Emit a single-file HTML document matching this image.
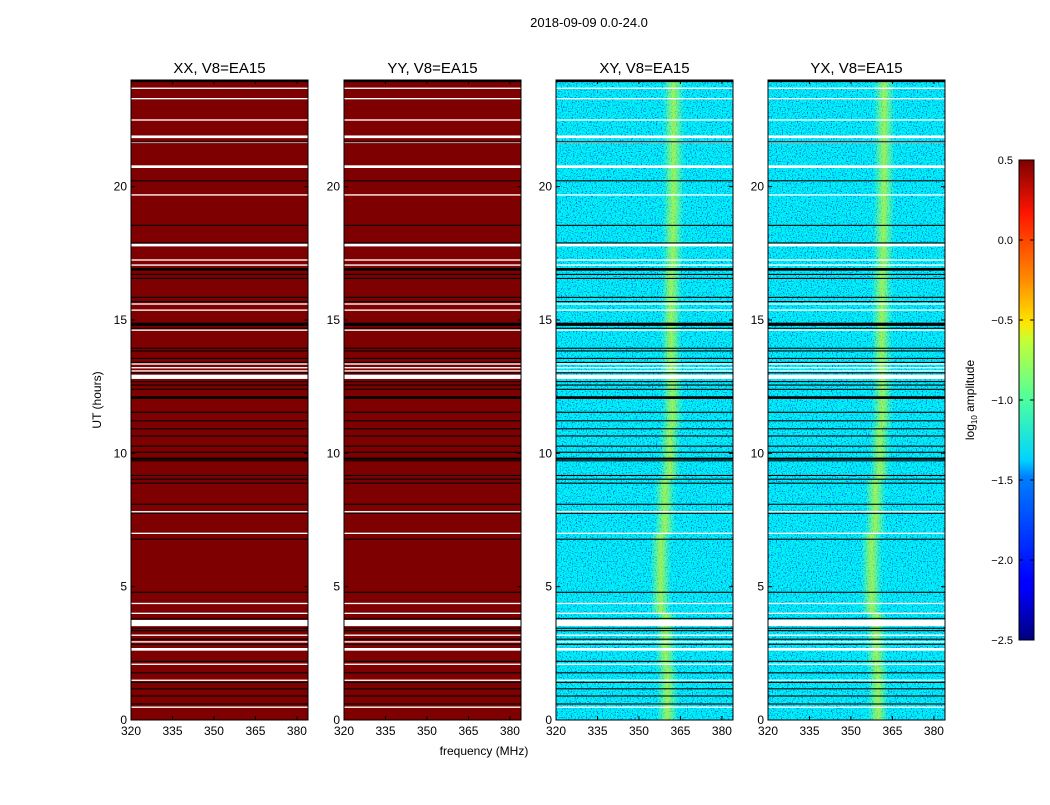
<!DOCTYPE html>
<html><head><meta charset="utf-8">
<style>
body{margin:0;background:#fff;}
svg text{font-family:"Liberation Sans",sans-serif;fill:#000;}
</style></head>
<body>
<svg id="fig" width="1050" height="800" viewBox="0 0 1050 800" xmlns="http://www.w3.org/2000/svg">
<defs>
<filter id="noise" x="0" y="0" width="100%" height="100%">
<feTurbulence type="fractalNoise" baseFrequency="0.8" numOctaves="1" seed="3" result="t"/>
<feColorMatrix in="t" type="matrix" values="0 0 0 0 0  2.6 0 0 0 -0.8  0 0 0 0 0  0 0 0 0 1" result="g"/>
<feComponentTransfer in="g">
<feFuncR type="table" tableValues="0 0 0 0 0 0 0.05 0.2 0.4 0.6"/>
<feFuncG type="table" tableValues="0.1 0.35 0.55 0.7 0.8 0.85 0.9 0.95 1 1"/>
<feFuncB type="table" tableValues="0.9 1 1 1 1 1 0.9 0.75 0.55 0.35"/>
<feFuncA type="table" tableValues="1 1"/>
</feComponentTransfer>
</filter>
<linearGradient id="jet" x1="0" y1="1" x2="0" y2="0">
<stop offset="0" stop-color="#00007f"/><stop offset="0.11" stop-color="#0000ff"/>
<stop offset="0.125" stop-color="#0000ff"/><stop offset="0.34" stop-color="#0080ff"/>
<stop offset="0.375" stop-color="#00d4ff"/><stop offset="0.5" stop-color="#4dff9f"/>
<stop offset="0.625" stop-color="#c4ff33"/><stop offset="0.66" stop-color="#ffe600"/>
<stop offset="0.75" stop-color="#ff8c00"/><stop offset="0.89" stop-color="#ff1500"/>
<stop offset="1" stop-color="#7f0000"/>
</linearGradient>
<linearGradient id="band" x1="0" y1="0" x2="1" y2="0">
<stop offset="0" stop-color="#7fff80" stop-opacity="0"/>
<stop offset="0.3" stop-color="#b0ff4a" stop-opacity="0.5"/>
<stop offset="0.5" stop-color="#e0f810" stop-opacity="0.7"/>
<stop offset="0.7" stop-color="#b0ff4a" stop-opacity="0.5"/>
<stop offset="1" stop-color="#7fff80" stop-opacity="0"/>
</linearGradient>
</defs>
<text x="589" y="27" font-size="13" text-anchor="middle">2018-09-09 0.0-24.0</text>
<text x="484" y="755" font-size="12" text-anchor="middle">frequency (MHz)</text>
<text x="0" y="0" font-size="12" text-anchor="middle" transform="translate(101,400) rotate(-90)">UT (hours)</text>
<g id="panels"></g>
<g id="cbar"></g>
</svg>
<script>
const panelTitles = ["XX, V8=EA15","YY, V8=EA15","XY, V8=EA15","YX, V8=EA15"];
const xTicks = [320,335,350,365,380];
const yTicks = [0,5,10,15,20];
const whiteHours = [23.69,23.3,22.5,21.87,21.66,20.75,19.69,17.81,17.25,17.06,15.6,15.37,14.62,13.35,13.21,13.09,12.87,7.81,7.0,4.37,4.0,3.635,3.18,2.93,2.65,2.09,1.49,0.48];
const whiteDur = [0.05,0.05,0.05,0.1,0.05,0.1,0.05,0.1,0.05,0.05,0.05,0.05,0.05,0.05,0.05,0.05,0.16,0.05,0.05,0.05,0.05,0.23,0.05,0.05,0.1,0.05,0.05,0.05];
const blackHours = [23.96,21.68,20.22,18.55,17.89,16.9,16.71,16.56,15.85,15.69,14.84,14.69,13.94,13.84,13.56,13.41,13.02,12.69,12.56,12.4,12.09,11.54,11.22,10.92,10.65,10.27,10.04,9.8,9.72,9.17,9.03,8.88,8.09,7.75,6.78,4.79,3.81,3.44,3.35,3.03,2.84,2.2,1.77,1.41,1.17,0.9,0.6];
const blackDur = [0.08,0.04,0.04,0.04,0.04,0.1,0.04,0.04,0.04,0.04,0.12,0.04,0.04,0.04,0.04,0.04,0.04,0.04,0.04,0.04,0.1,0.04,0.04,0.04,0.04,0.04,0.04,0.08,0.04,0.04,0.04,0.04,0.04,0.04,0.04,0.04,0.04,0.04,0.04,0.04,0.04,0.04,0.04,0.04,0.04,0.04,0.04];
const bandHours = [0,2,4,5.5,7,9,11,13,15,17,19,21,23,24];
const bandCenterXY = [360,360.6,358.8,357,358.8,360,362.3,361.8,361.5,362,362.5,362.5,362.5,362.5];
const bandCenterYX = [359.5,360,358.3,356.7,358.2,359.5,361.5,361.2,361,361.5,362,362,362,362];
const cbTicks = [-2.5,-2.0,-1.5,-1.0,-0.5,0.0,0.5];

const NS="http://www.w3.org/2000/svg";
const PX=[131,344,556,768], PW=177, PT=80, PB=720;
const fMin=320,fMax=384,hMin=0,hMax=24;
function el(t,a,p){const e=document.createElementNS(NS,t);for(const k in a)e.setAttribute(k,a[k]);if(p)p.appendChild(e);return e;}
function yS(h){return PB-(h-hMin)/(hMax-hMin)*(PB-PT);}
const panels=document.getElementById('panels');
const kinds=["solid","solid","noise","noise"];
panelTitles.forEach((title,i)=>{
  const x0=PX[i];
  const xS=f=>x0+(f-fMin)/(fMax-fMin)*PW;
  const g=el('g',{},panels);
  
  
  if(kinds[i]==="solid"){
    const r=el('rect',{x:x0,y:PT,width:PW,height:PB-PT,fill:'#7f0000'},g);
    
    
  } else {
    const r=el('rect',{x:x0,y:PT,width:PW,height:PB-PT,fill:'#20c0f0',filter:'url(#noise)'},g);
    
    
    const bc=i===2?bandCenterXY:bandCenterYX;
    for(let k=0;k<bandHours.length-1;k++){
      const c=(bc[k]+bc[k+1])/2;
      const b=el('rect',{x:xS(c-4),y:yS(bandHours[k+1]),width:xS(c+4)-xS(c-4),height:yS(bandHours[k])-yS(bandHours[k+1]),fill:'url(#band)'},g);
      
      
    }
  }
  whiteHours.forEach((h,k)=>{
    const l=el('rect',{x:x0,y:yS(h+whiteDur[k]/2),width:PW,height:Math.max(1.2,whiteDur[k]/24*640),fill:'#fff'},g);
    
    
  });
  blackHours.forEach((h,k)=>{
    const l=el('rect',{x:x0,y:yS(h+blackDur[k]/2),width:PW,height:Math.max(1,blackDur[k]/24*640),fill:'#000'},g);
    
    
  });
  el('rect',{x:x0,y:PT,width:PW,height:PB-PT,fill:'none',stroke:'#000','stroke-width':1},g);
  xTicks.forEach(v=>{
    const x=xS(v);
    el('line',{x1:x,x2:x,y1:PB,y2:PB-4,stroke:'#000'},g);
    el('line',{x1:x,x2:x,y1:PT,y2:PT+4,stroke:'#000'},g);
    const t=el('text',{x:x,y:PB+15,'font-size':12,'text-anchor':'middle'},g);
    t.textContent=v;
    
    
  });
  yTicks.forEach(v=>{
    const y=yS(v);
    el('line',{x1:x0,x2:x0+4,y1:y,y2:y,stroke:'#000'},g);
    el('line',{x1:x0+PW,x2:x0+PW-4,y1:y,y2:y,stroke:'#000'},g);
    const t=el('text',{x:x0-4,y:y+4,'font-size':12,'text-anchor':'end'},g);
    t.textContent=v;
    
    
  });
  const tt=el('text',{x:x0+PW/2,y:73,'font-size':15,'text-anchor':'middle'},g);
  tt.textContent=title;
  
  
});
const cb=document.getElementById('cbar');
const CX=1019,CW=15,CT=160,CB=640,vMin=-2.5,vMax=0.5;
const cS=v=>CB-(v-vMin)/(vMax-vMin)*(CB-CT);
el('rect',{x:CX,y:CT,width:CW,height:CB-CT,fill:'url(#jet)',stroke:'#000','stroke-width':1},cb);
cbTicks.forEach(v=>{
  const y=cS(v);
  el('line',{x1:CX,x2:CX+4,y1:y,y2:y,stroke:'#000'},cb);
  el('line',{x1:CX+CW,x2:CX+CW-4,y1:y,y2:y,stroke:'#000'},cb);
  const t=el('text',{x:1013,y:y+4,'font-size':11,'text-anchor':'end'},cb);
  t.textContent=(v<0?'\u2212':'')+Math.abs(v).toFixed(1);
  
  
});
const cl=el('text',{'font-size':12,'text-anchor':'middle',transform:'translate(974,400) rotate(-90)'},cb);
cl.innerHTML='log<tspan font-size="8" dy="3">10</tspan><tspan dy="-3"> amplitude</tspan>';


</script>
</body></html>
